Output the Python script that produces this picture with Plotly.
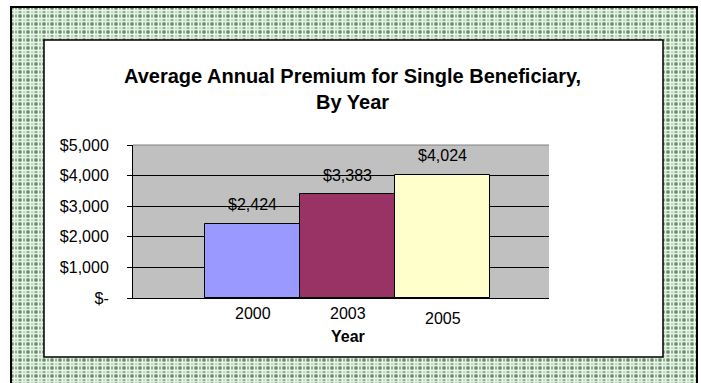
import base64
import plotly.graph_objects as go

# ---- data ----
years = ["2000", "2003", "2005"]
premiums = [2424, 3383, 4024]
bar_colors = ["#9999FF", "#993366", "#FFFFCC"]
label_texts = ["$2,424", "$3,383", "$4,024"]
ytick_vals = [0, 1000, 2000, 3000, 4000, 5000]
ytick_text = ["$-", "$1,000", "$2,000", "$3,000", "$4,000", "$5,000"]
year_label_shift = [-15, -15, -20]

# ---- geometry (pixels) ----
W, H = 701, 383
L, R, T, B = 133, 549, 145, 298
pw, ph = R - L, B - T


def px(x):
    return (x - L) / pw


def py(y):
    return (B - y) / ph


FONT = "Liberation Sans, Arial, sans-serif"

xs = list(range(len(years)))

fig = go.Figure()
fig.add_trace(go.Bar(
    x=xs, y=premiums, width=1.0,
    marker=dict(color=bar_colors, line=dict(color="#000000", width=1)),
    hoverinfo="skip", showlegend=False,
))

# background pattern image
svg = (
    "<svg xmlns='http://www.w3.org/2000/svg' width='686' height='380' preserveAspectRatio='none'>"
    "<defs><pattern id='p' width='8' height='8' patternUnits='userSpaceOnUse'>"
    "<rect width='8' height='8' fill='#c3d7c3'/>"
    "<rect x='0' width='2' height='8' fill='#8db08d'/>"
    "<rect y='0' width='8' height='2' fill='#8db08d'/>"
    "<rect width='2' height='2' fill='#668f66'/>"
    "<rect x='3' width='1' height='8' fill='#eef5ee'/>"
    "<rect y='3' width='8' height='1' fill='#eef5ee'/>"
    "<rect x='6' width='1' height='8' fill='#e2ece2'/>"
    "<rect y='6' width='8' height='1' fill='#e2ece2'/>"
    "</pattern></defs><rect width='686' height='380' fill='url(#p)'/></svg>"
)
src = "data:image/svg+xml;base64," + base64.b64encode(svg.encode()).decode()

fig.add_layout_image(dict(
    source=src, xref="paper", yref="paper",
    x=px(11), y=py(7), sizex=686 / pw, sizey=380 / ph,
    xanchor="left", yanchor="top", sizing="stretch", layer="below",
))

shapes = [
    dict(type="rect", xref="paper", yref="paper", x0=px(11), x1=px(697), y0=py(7), y1=py(395),
         line=dict(color="#000000", width=2), fillcolor="rgba(0,0,0,0)", layer="below"),
    dict(type="rect", xref="paper", yref="paper", x0=px(44), x1=px(663), y0=py(40), y1=py(357),
         line=dict(color="#000000", width=1.5), fillcolor="#FFFFFF", layer="below"),
    dict(type="rect", xref="paper", yref="paper", x0=0, x1=1, y0=0, y1=1,
         line=dict(width=0), fillcolor="#C0C0C0", layer="below"),
    dict(type="line", xref="paper", yref="paper", x0=0, x1=1, y0=1, y1=1,
         line=dict(color="#808080", width=1), layer="above"),
]

annotations = [
    dict(text="<b>Average Annual Premium for Single Beneficiary,<br>By Year</b>",
         xref="paper", yref="paper", x=px(352), y=py(89), xanchor="center", yanchor="middle",
         showarrow=False, font=dict(family=FONT, size=20, color="#000000")),
    dict(text="<b>Year</b>", xref="paper", yref="paper", x=px(348), y=py(336),
         xanchor="center", yanchor="middle", showarrow=False,
         font=dict(family=FONT, size=16, color="#000000")),
]
for i, (yr, val, txt) in enumerate(zip(years, premiums, label_texts)):
    annotations.append(dict(text=txt, x=xs[i], y=val, xref="x", yref="y",
                            yanchor="middle", xanchor="center", yshift=19, showarrow=False,
                            font=dict(family=FONT, size=16, color="#000000")))
    annotations.append(dict(text=yr, x=xs[i], y=0, xref="x", yref="paper",
                            yanchor="middle", xanchor="center", yshift=year_label_shift[i],
                            showarrow=False, font=dict(family=FONT, size=16, color="#000000")))

# x range: bars 95 px wide, left bar edge at 205 px
unit = 95.0
x_left = -0.5 - (205 - L) / unit
x_right = x_left + pw / unit

fig.update_layout(
    width=W, height=H,
    margin=dict(l=L, r=W - R, t=T, b=H - B, pad=0),
    paper_bgcolor="#FFFFFF", plot_bgcolor="#C0C0C0",
    shapes=shapes, annotations=annotations,
    bargap=0,
    font=dict(family=FONT, size=16, color="#000000"),
    xaxis=dict(range=[x_left, x_right], showticklabels=False, showgrid=False, zeroline=False,
               showline=True, linecolor="#000000", linewidth=1, ticks="", fixedrange=True),
    yaxis=dict(range=[0, 5000], tickvals=ytick_vals, ticktext=ytick_text,
               showgrid=True, gridcolor="#000000", gridwidth=1, zeroline=False,
               showline=True, linecolor="#000000", linewidth=1,
               ticks="outside", ticklen=5, tickcolor="#000000", ticklabelstandoff=15,
               tickfont=dict(family=FONT, size=16, color="#000000"), fixedrange=True),
)

fig.write_html("out.html", config={"displayModeBar": False},
               post_script="document.body.style.margin='0';document.body.style.overflow='hidden';")
